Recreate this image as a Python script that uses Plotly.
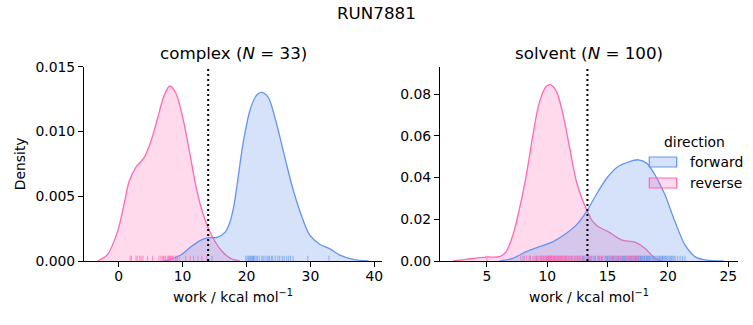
import plotly.graph_objects as go

W, H = 753, 325

# ---------------- text ----------------
suptitle = "RUN7881"
panel_titles = ["complex (<i>N</i> = 33)", "solvent (<i>N</i> = 100)"]
xlabel = "work / kcal mol<sup>−1</sup>"
ylabel = "Density"
hue_title = "direction"
hue_levels = ["forward", "reverse"]
colors = {"forward": "#6495ED", "reverse": "#FF69B4"}
fills = {"forward": "rgba(100,149,237,0.27)", "reverse": "rgba(255,105,180,0.25)"}

# ---------------- complex phase: KDE curves ----------------
complex_forward_x = [7.1, 9.7, 11.3, 12.8, 14.1, 15.4, 16.7, 17.4, 18.0, 18.5, 19.5, 20.6,
                     21.6, 22.4, 23.4, 24.5, 25.8, 27.1, 28.4, 29.9, 31.5, 33.1, 34.6, 36.7, 39.1]
complex_forward_d = [0.0, 0.00046, 0.0011, 0.0016, 0.0018, 0.00182, 0.00225, 0.0030, 0.0042,
                     0.0058, 0.0092, 0.01174, 0.01282, 0.01302, 0.01264, 0.01097, 0.00841,
                     0.00585, 0.00379, 0.0020, 0.00128, 0.00092, 0.00046, 0.00013, 0.0]
complex_reverse_x = [-3.3, -1.8, -0.2, 0.8, 1.6, 2.7, 4.0, 5.0, 6.05, 7.1, 8.0, 8.9, 9.95,
                     11.0, 12.05, 13.1, 14.4, 16.0, 17.5, 19.0]
complex_reverse_d = [0.0, 0.00046, 0.00225, 0.0043, 0.0061, 0.00725, 0.0080, 0.0092, 0.01097,
                     0.01277, 0.01352, 0.01302, 0.01123, 0.00867, 0.00585, 0.00379, 0.00213,
                     0.00085, 0.0002, 0.0]
# rug samples (work values)
complex_forward_work = [14.6, 19.9, 20.1, 20.3, 20.5, 20.6, 20.8, 21.0, 21.1, 21.3, 21.5, 21.7,
                        22.0, 22.4, 22.6, 22.9, 23.2, 23.4, 23.6, 23.9, 24.1, 24.5, 24.9, 25.2,
                        25.6, 25.9, 26.3, 26.6, 26.9, 27.3, 29.6, 32.9, 21.0]
complex_reverse_work = [1.8, 2.0, 2.7, 2.9, 3.3, 3.8, 4.5, 5.3, 6.3, 6.6, 6.8, 7.0, 7.3, 7.6,
                        7.8, 8.0, 8.3, 8.6, 8.9, 9.2, 9.5, 10.5, 11.2, 11.7, 3.5, 7.1, 7.9, 8.1,
                        8.4, 9.0, 12.4, 13.0, 13.8]
complex_vline = 14.0

# ---------------- solvent phase ----------------
solvent_forward_x = [6.05, 7.16, 8.27, 9.37, 10.48, 11.59, 12.42, 13.25, 14.21, 15.04, 15.87,
                     16.7, 17.53, 18.23, 18.92, 19.75, 20.58, 21.41, 22.24, 23.07, 24.6]
solvent_forward_d = [0.0, 0.0013, 0.0045, 0.0069, 0.0093, 0.0133, 0.0173, 0.0237, 0.0333,
                     0.0405, 0.0453, 0.0474, 0.0485, 0.0469, 0.0413, 0.0317, 0.0189, 0.0077,
                     0.0021, 0.0005, 0.0]
solvent_reverse_x = [2.2, 3.3, 4.95, 6.05, 6.6, 7.16, 7.71, 8.27, 8.82, 9.37, 9.93, 10.26,
                     10.76, 11.31, 11.86, 12.42, 12.97, 13.33, 13.7, 14.21, 15.04, 16.15,
                     17.26, 18.09, 18.92, 19.5]
solvent_reverse_d = [0.0, 0.0008, 0.0019, 0.0021, 0.0045, 0.0125, 0.0253, 0.0413, 0.0605,
                     0.0765, 0.0837, 0.0845, 0.0813, 0.0701, 0.0541, 0.0381, 0.0285, 0.0238,
                     0.0195, 0.0165, 0.0141, 0.0101, 0.0090, 0.0061, 0.0013, 0.0]
solvent_forward_work = [8.0, 8.6, 9.1, 9.5, 9.9, 10.3, 10.6, 10.9,
                        11.2, 11.5, 11.8, 12.0, 12.3, 12.5, 12.7, 12.9,
                        13.0, 13.1, 13.3, 13.4, 13.6, 13.7, 13.9, 14.0, 14.2, 14.3, 14.5, 14.6,
                        14.8, 14.9,
                        15.0, 15.1, 15.2, 15.3, 15.4, 15.5, 15.6, 15.7, 15.8, 15.9, 16.0, 16.1,
                        16.2, 16.3, 16.4, 16.5, 16.6, 16.7, 16.8, 16.9, 15.45, 16.25,
                        17.0, 17.1, 17.2, 17.3, 17.4, 17.5, 17.6, 17.7, 17.8, 17.9, 18.0, 18.1,
                        18.2, 18.3, 18.4, 18.5, 18.6, 18.7, 18.8, 18.9, 17.35, 17.55, 17.75,
                        18.05, 18.25, 18.45,
                        19.0, 19.1, 19.2, 19.3, 19.4, 19.5, 19.6, 19.7, 19.8, 19.9, 20.0, 20.1,
                        20.2, 20.3, 20.4, 20.5, 20.6, 20.8, 21.0, 21.2, 21.4, 19.55]
solvent_reverse_work = [5.0,
                        7.8, 8.1, 8.3, 8.5, 8.6, 8.8, 8.9, 9.0, 9.1, 9.2, 9.3, 9.4, 9.5, 9.5,
                        9.6, 9.7, 9.7, 9.8, 9.9, 9.9,
                        10.0, 10.0, 10.1, 10.1, 10.1, 10.2, 10.2, 10.3, 10.3, 10.3, 10.4, 10.4,
                        10.5, 10.5, 10.6, 10.6, 10.7, 10.7, 10.8, 10.8, 10.9, 10.9,
                        11.0, 11.0, 11.1, 11.1, 11.2, 11.3, 11.3, 11.4, 11.5, 11.6, 11.7, 11.8,
                        11.9, 12.0, 12.1, 12.2, 12.3, 12.4, 12.5, 12.6, 12.7, 12.8, 12.9, 11.4,
                        11.6,
                        13.0, 13.2, 13.4, 13.6, 13.8, 14.0, 14.2, 14.4, 14.6, 14.8, 15.0, 15.2,
                        15.4, 15.5, 15.7, 15.9, 13.5, 14.3,
                        16.1, 16.3, 16.5, 16.7, 16.9, 17.0, 17.1, 17.2, 17.4, 17.6, 16.6, 16.8,
                        17.3, 17.8]
solvent_vline = 13.33

# ---------------- axis settings ----------------
complex_xticks = [0, 10, 20, 30, 40]
complex_yticks = [0.0, 0.005, 0.010, 0.015]
solvent_xticks = [5, 10, 15, 20, 25]
solvent_yticks = [0.0, 0.02, 0.04, 0.06, 0.08]

FONT = "DejaVu Sans"
FS = 13.9


def px(x):
    return x / W


def py(y):
    return 1 - y / H


panels = [
    dict(xa="x", ya="y", curves={"forward": (complex_forward_x, complex_forward_d),
                                 "reverse": (complex_reverse_x, complex_reverse_d)},
         rug={"forward": complex_forward_work, "reverse": complex_reverse_work},
         vline=complex_vline),
    dict(xa="x2", ya="y2", curves={"forward": (solvent_forward_x, solvent_forward_d),
                                   "reverse": (solvent_reverse_x, solvent_reverse_d)},
         rug={"forward": solvent_forward_work, "reverse": solvent_reverse_work},
         vline=solvent_vline),
]

fig = go.Figure()
shapes = []
for p in panels:
    for lvl in ["reverse", "forward"]:
        xs, ds = p["curves"][lvl]
        fig.add_trace(go.Scatter(
            x=xs, y=ds, mode="lines", xaxis=p["xa"], yaxis=p["ya"],
            line=dict(color=colors[lvl], width=1.3, shape="spline", smoothing=0.9),
            fill="tozeroy", fillcolor=fills[lvl], showlegend=False, hoverinfo="skip"))
    for lvl in ["forward", "reverse"]:
        for v in p["rug"][lvl]:
            shapes.append(dict(type="line", xref=p["xa"], yref=p["ya"] + " domain",
                               x0=v, x1=v, y0=0, y1=0.027,
                               line=dict(color=colors[lvl], width=1), opacity=0.7))
    shapes.append(dict(type="line", xref=p["xa"], yref=p["ya"] + " domain",
                       x0=p["vline"], x1=p["vline"], y0=0, y1=1,
                       line=dict(color="black", width=2, dash="2px,3px")))

ydom = [py(261), py(66.7)]
axis_common = dict(showgrid=False, zeroline=False, showline=True, linecolor="black",
                   linewidth=1, ticks="outside", ticklen=5, tickwidth=1, tickcolor="black",
                   automargin=False,
                   tickfont=dict(family=FONT, size=FS, color="black"), mirror=False)

fig.update_layout(
    width=W, height=H, margin=dict(l=0, r=0, t=0, b=0, autoexpand=False),
    paper_bgcolor="white", plot_bgcolor="rgba(0,0,0,0)",
    showlegend=False, shapes=shapes,
    xaxis=dict(domain=[px(84), px(382)], range=[-5.43, 41.2], tickvals=complex_xticks,
               ticklabelstandoff=-3,
               title=dict(text=xlabel, font=dict(family=FONT, size=FS, color="black"),
                          standoff=9), anchor="y", **axis_common),
    yaxis=dict(domain=ydom, range=[0, 0.01501], tickvals=complex_yticks, tickformat=".3f",
               title=dict(text=ylabel, font=dict(family=FONT, size=FS, color="black"),
                          standoff=6), anchor="x", **axis_common),
    xaxis2=dict(domain=[px(440), px(738)], range=[1.12, 25.8], tickvals=solvent_xticks,
                ticklabelstandoff=-3,
                title=dict(text=xlabel, font=dict(family=FONT, size=FS, color="black"),
                           standoff=9), anchor="y2", **axis_common),
    yaxis2=dict(domain=ydom, range=[0, 0.0931], tickvals=solvent_yticks, tickformat=".2f",
                anchor="x2", **axis_common),
)

ann = []
ann.append(dict(text=suptitle, x=px(376.5), y=py(13), xref="paper", yref="paper",
                xanchor="center", yanchor="middle", showarrow=False,
                font=dict(family=FONT, size=16.7, color="black")))
ann.append(dict(text=panel_titles[0], x=px(233), y=py(53), xref="paper", yref="paper",
                xanchor="center", yanchor="middle", showarrow=False,
                font=dict(family=FONT, size=16.7, color="black")))
ann.append(dict(text=panel_titles[1], x=px(589), y=py(53), xref="paper", yref="paper",
                xanchor="center", yanchor="middle", showarrow=False,
                font=dict(family=FONT, size=16.7, color="black")))
# legend
ann.append(dict(text=hue_title, x=px(694.7), y=py(142), xref="paper", yref="paper",
                xanchor="center", yanchor="middle", showarrow=False,
                font=dict(family=FONT, size=FS, color="black")))
for i, lvl in enumerate(hue_levels):
    yc = 162 + 21 * i
    fig.add_shape(type="rect", xref="paper", yref="paper",
                  x0=px(649.3), x1=px(676.7), y0=py(yc + 5), y1=py(yc - 5),
                  fillcolor=fills[lvl], line=dict(color=colors[lvl], width=1.2))
    ann.append(dict(text=lvl, x=px(687.7), y=py(yc), xref="paper", yref="paper",
                    xanchor="left", yanchor="middle", showarrow=False,
                    font=dict(family=FONT, size=FS, color="black")))
fig.update_layout(annotations=ann)

fig.write_html("out.html")
